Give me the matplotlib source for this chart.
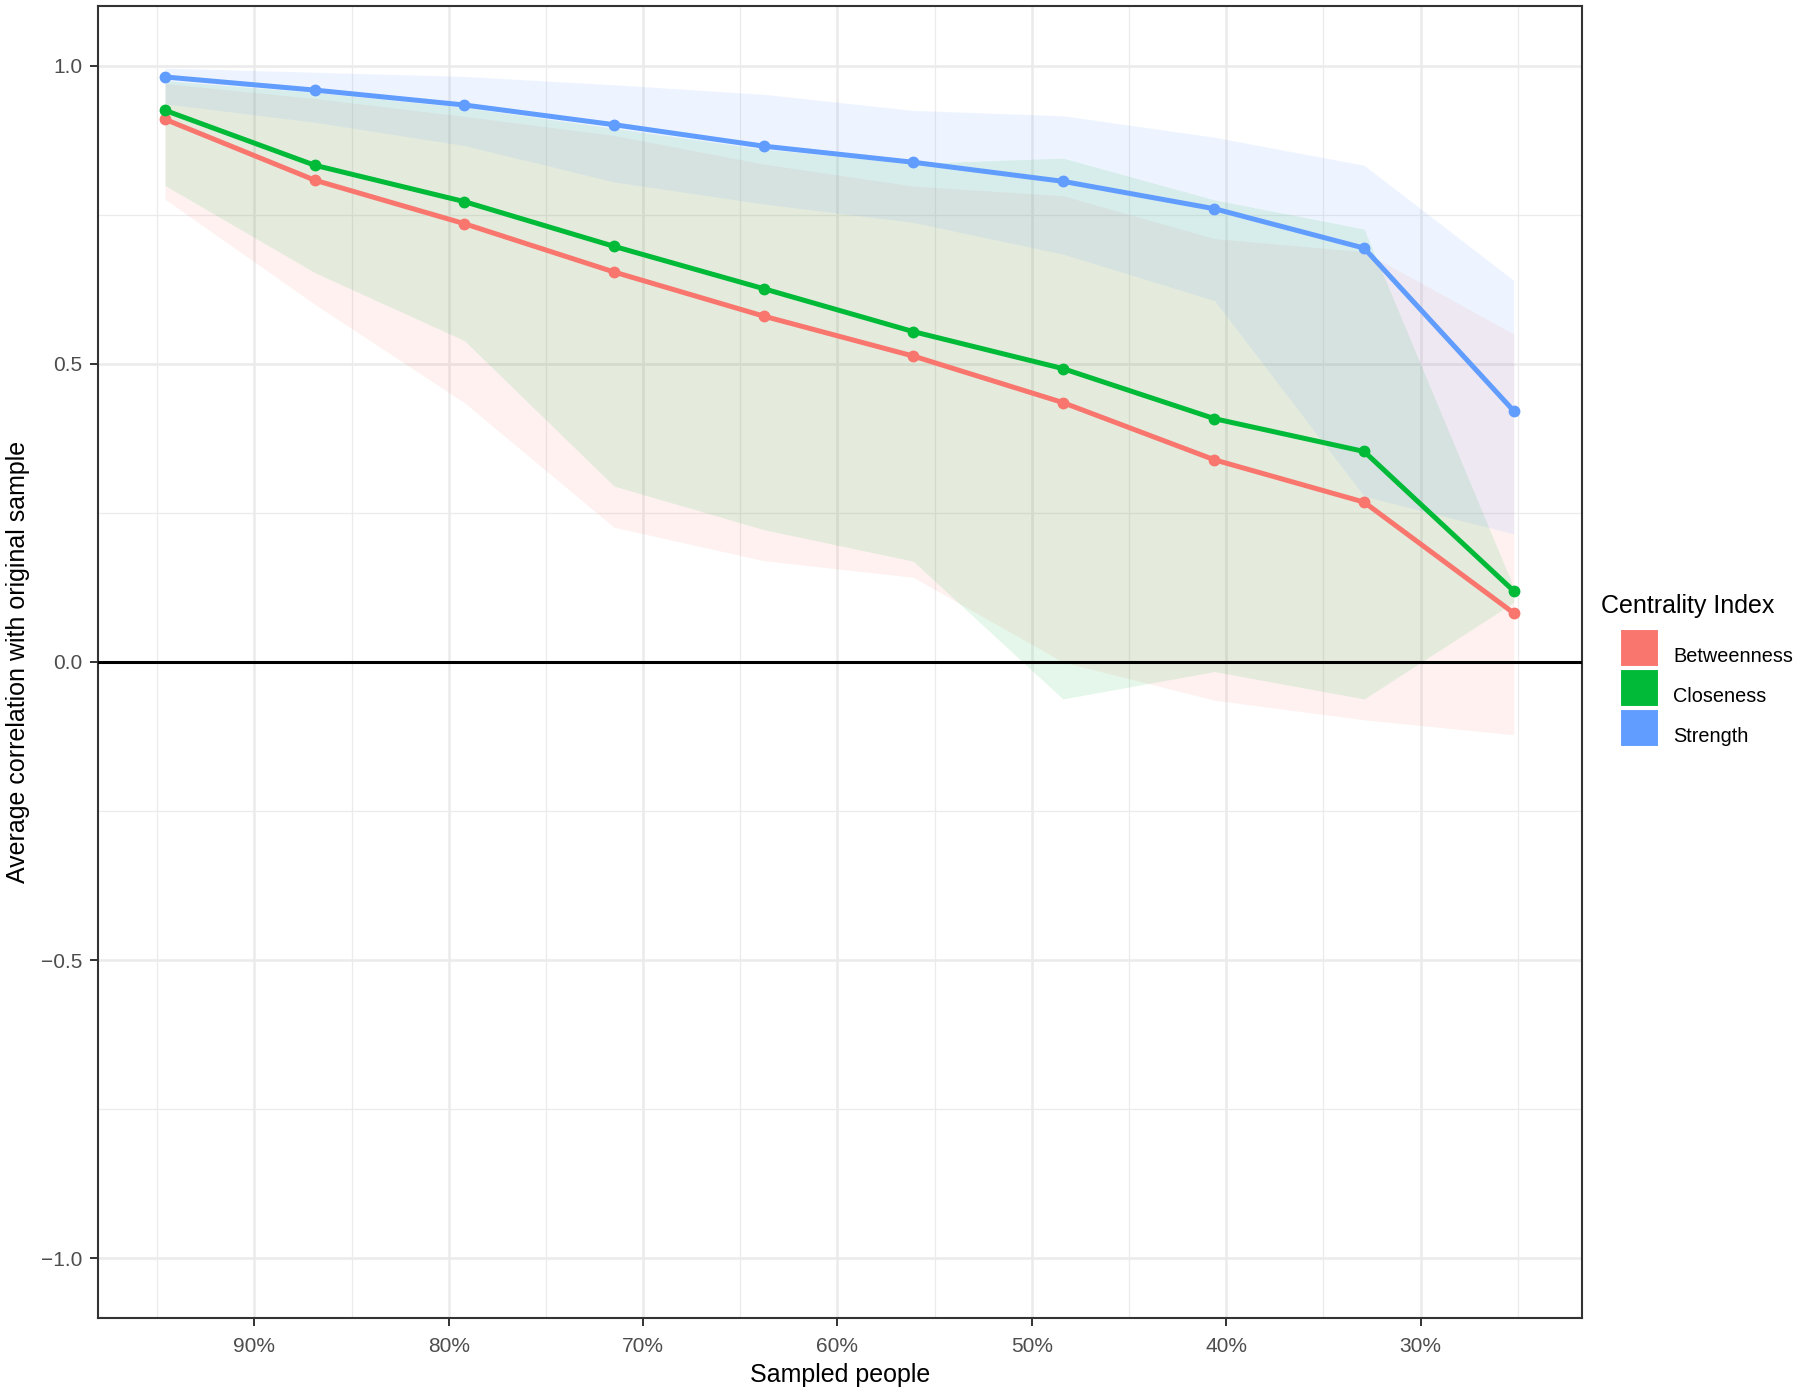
import matplotlib.pyplot as plt
from matplotlib.patches import Rectangle

# sampled proportion of people (in %), x axis is reversed
sampled = [94.6, 86.9, 79.2, 71.5, 63.8, 56.1, 48.4, 40.6, 32.9, 25.2]

# average correlation with the original sample
betweenness = [0.910, 0.808, 0.735, 0.654, 0.580, 0.513, 0.435, 0.339, 0.268, 0.082]
closeness = [0.925, 0.833, 0.772, 0.697, 0.626, 0.554, 0.492, 0.408, 0.353, 0.119]
strength = [0.981, 0.959, 0.934, 0.901, 0.865, 0.838, 0.806, 0.760, 0.694, 0.421]

# ribbon bounds
betweenness_lo = [0.776, 0.600, 0.435, 0.226, 0.170, 0.142, 0.000, -0.064, -0.097, -0.122]
betweenness_hi = [0.970, 0.945, 0.915, 0.883, 0.835, 0.798, 0.782, 0.710, 0.688, 0.550]
closeness_lo = [0.799, 0.653, 0.539, 0.295, 0.222, 0.169, -0.062, -0.016, -0.062, 0.100]
closeness_hi = [0.975, 0.955, 0.930, 0.895, 0.860, 0.836, 0.845, 0.775, 0.726, 0.125]
strength_lo = [0.936, 0.905, 0.866, 0.805, 0.768, 0.737, 0.684, 0.606, 0.278, 0.215]
strength_hi = [0.996, 0.989, 0.982, 0.968, 0.952, 0.925, 0.916, 0.880, 0.833, 0.640]

labels = ['Betweenness', 'Closeness', 'Strength']
colors = ['#F8766D', '#00BA38', '#619CFF']
x_ticks = [90, 80, 70, 60, 50, 40, 30]
y_ticks = [-1.0, -0.5, 0.0, 0.5, 1.0]

plt.rcParams['font.family'] = ['Liberation Sans', 'DejaVu Sans']

W, H = 1800, 1395
fig = plt.figure(figsize=(W / 100, H / 100), dpi=100)
ax = fig.add_axes([97.6 / W, 1 - 1318 / H, (1582 - 97.6) / W, (1318 - 6) / H])

series = [
    (betweenness, betweenness_lo, betweenness_hi),
    (closeness, closeness_lo, closeness_hi),
    (strength, strength_lo, strength_hi),
]

for (vals, lo, hi), col in zip(series, colors):
    ax.fill_between(sampled, lo, hi, color=col, alpha=0.1, linewidth=0, zorder=2)

ax.axhline(0, color='black', linewidth=2.2, zorder=3)

for (vals, lo, hi), col in zip(series, colors):
    ax.plot(sampled, vals, color=col, linewidth=3.6, marker='o', markersize=7.5, zorder=4)

# axes, grid
ax.set_xlim(98.07, 21.69)
ax.set_ylim(-1.1, 1.1)
ax.set_xticks(x_ticks)
ax.set_xticklabels([f'{t}%' for t in x_ticks])
ax.set_xticks([95, 85, 75, 65, 55, 45, 35, 25], minor=True)
ax.set_yticks(y_ticks)
ax.set_yticklabels(['\u22121.0', '\u22120.5', '0.0', '0.5', '1.0'])
ax.set_yticks([-0.75, -0.25, 0.25, 0.75], minor=True)

ax.grid(which='major', color='#EBEBEB', linewidth=1.8, zorder=0)
ax.grid(which='minor', color='#EBEBEB', linewidth=0.9, zorder=0)
ax.set_axisbelow(True)

ax.tick_params(which='major', length=6, width=1.4, color='#333333',
               labelsize=15, labelcolor='#4D4D4D')
ax.tick_params(axis='x', which='major', pad=8)
ax.tick_params(axis='y', which='major', pad=5)
ax.tick_params(which='minor', length=0)
for s in ax.spines.values():
    s.set_color('#333333')
    s.set_linewidth(1.5)

ax.set_xlabel('Sampled people', fontsize=18, labelpad=5)
ax.set_ylabel('Average correlation with original sample', fontsize=18, labelpad=8)

# legend drawn like ggplot's
fig.text(1601 / W, 1 - 606 / H, 'Centrality Index', fontsize=18, va='center', ha='left')
key_tops = [629, 669, 709]
for top, col, lab in zip(key_tops, colors, labels):
    fig.add_artist(Rectangle((1620 / W, 1 - (top + 37) / H), 38 / W, 37 / H,
                             transform=fig.transFigure, facecolor=col,
                             edgecolor='white', linewidth=0.8))
    fig.text(1673 / W, 1 - (top + 27) / H, lab, fontsize=14.3, va='center', ha='left')

plt.savefig('out.png', dpi=100)
